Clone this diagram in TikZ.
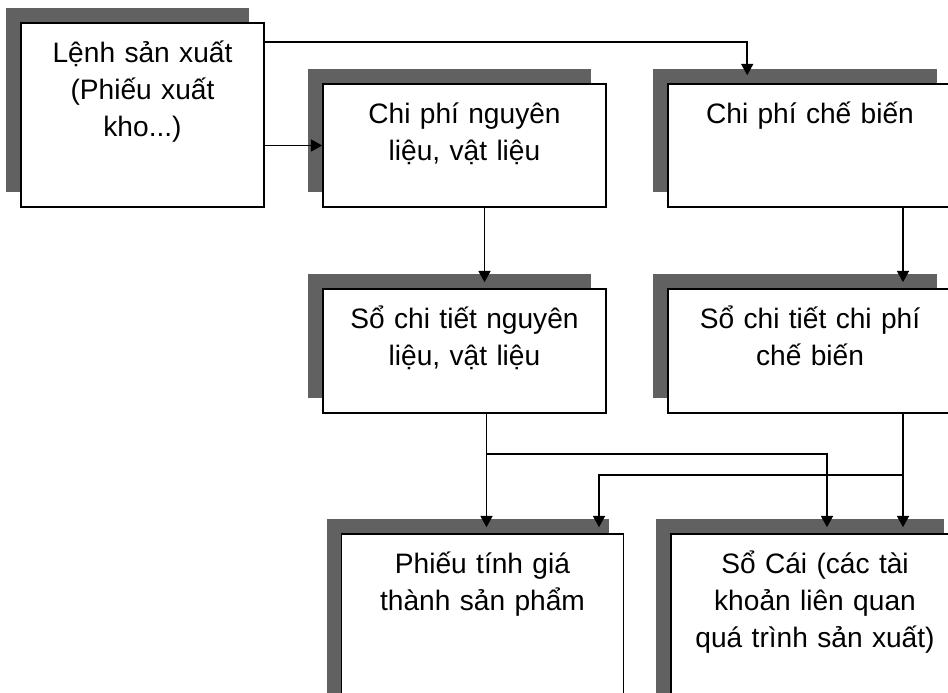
\documentclass[tikz,border=0pt]{standalone}
\usepackage{fontspec}
\setmainfont{Liberation Sans}
\usetikzlibrary{arrows.meta,shadows}

\begin{document}
\begin{tikzpicture}[
box/.style={draw, fill=white, line width=1.1pt, inner sep=0pt, align=center, text height=1cm, font={\fontsize{20}{26.3}\selectfont}, general shadow={fill=black!62, shadow xshift=-0.375cm, shadow yshift=0.375cm}},
arrow/.style={-{Triangle[length=8pt,width=8.5pt]},line width=1.1pt} ]

\fill[white] (0,0) rectangle (23.7,17.325);
\clip (0,0) rectangle (23.7,17.325);

\node[box, text width=6.075cm, text depth=3.6cm] (lenh) at (3.5625,14.45) {Lệnh sản xuất\\(Phiếu xuất\\kho...)};

\node[box, text width=7.075cm, text depth=2.075cm] (nvl) at (11.6125,13.6875) {Chi phí nguyên\\liệu, vật liệu};

\node[box, text width=7.1cm, text depth=2.075cm] (cb) at (20.25,13.6875) {Chi phí chế biến};

\node[box, text width=7.075cm, text depth=2.1cm] (snvl) at (11.6125,8.55) {Sổ chi tiết nguyên\\liệu, vật liệu};

\node[box, text width=7.1cm, text depth=2.1cm] (scb) at (20.25,8.55) {Sổ chi tiết chi phí\\chế biến};

\node[box, text width=7.05cm, text depth=3.75cm] (ptg) at (12.0625,1.6) {Phiếu tính giá\\thành sản phẩm};

\node[box, text width=7.2cm, text depth=3.75cm] (cai) at (20.375,1.6) {Sổ Cái (các tài\\khoản liên quan\\quá trình sản xuất)};


\draw[arrow] ([yshift=-0.5cm]lenh.north east) -| ([xshift=2cm,yshift=0.2cm]cb.north west);

\draw[arrow] (lenh.east |- nvl.west) -- (nvl.west);

\draw[arrow] ([xshift=0.5cm]nvl.south) -- ([xshift=0.5cm,yshift=0.15cm]snvl.north);

\draw[arrow] ([xshift=2.325cm]cb.south) -- ([xshift=2.325cm,yshift=0.15cm]scb.north);

\draw[arrow] ([xshift=0.55cm]snvl.south) -- ([xshift=0.1cm,yshift=0.15cm]ptg.north);

\draw[arrow] ([xshift=0.55cm]snvl.south) -- ++(0,-1cm) -| ([xshift=0.3cm,yshift=0.15cm]cai.north);

\draw[arrow] ([xshift=2.325cm]scb.south) -- ([xshift=2.2cm,yshift=0.15cm]cai.north);

\draw[arrow] ([xshift=2.325cm]scb.south) -- ++(0,-1.525cm) -| ([xshift=2.9125cm,yshift=0.15cm]ptg.north);

\end{tikzpicture}
\end{document}
